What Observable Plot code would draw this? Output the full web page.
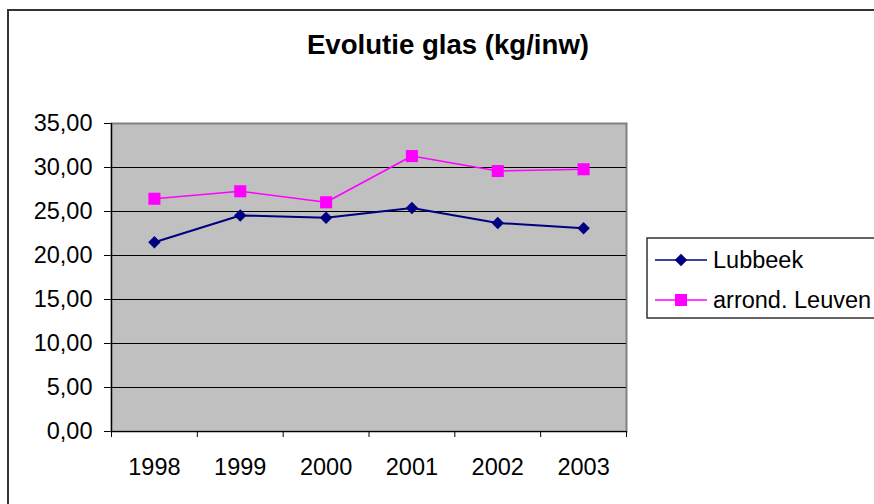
<!DOCTYPE html>
<html>
<head>
<meta charset="utf-8">
<script src="https://cdn.jsdelivr.net/npm/d3@7"></script>
<script src="https://cdn.jsdelivr.net/npm/@observablehq/plot@0.6"></script>
<style>
  html, body { margin: 0; padding: 0; background: white; }
  #wrap { position: relative; width: 874px; height: 504px; overflow: hidden; background: white; font-family: "Liberation Sans", Arial, sans-serif; }
  #frame { position: absolute; left: 7px; top: 9px; width: 1000px; height: 700px; border: 2px solid #333; box-sizing: border-box; }
  #title { position: absolute; left: 248px; width: 400px; top: 29px; text-align: center; font-weight: bold; font-size: 27.6px; line-height: 32px; color: black; }
  #chart { position: absolute; left: 0; top: 0; }
  #legend { position: absolute; left: 646px; top: 237px; }
</style>
</head>
<body>
<div id="wrap">
  <div id="frame"></div>
  <div id="chart"></div>
  <div id="title"></div>
  <div id="legend"></div>
</div>
<script>
const titleText = "Evolutie glas (kg/inw)";
const years = [1998, 1999, 2000, 2001, 2002, 2003];
const seriesNames = ["Lubbeek", "arrond. Leuven"];
const lubbeek = [21.5, 24.55, 24.3, 25.4, 23.7, 23.1];
const leuven = [26.45, 27.3, 26.05, 31.3, 29.6, 29.8];
const yTicks = [0, 5, 10, 15, 20, 25, 30, 35];
const colors = ["#000080", "#FF00FF"];

const fmt = d3.formatLocale({decimal: ",", thousands: ".", grouping: [3], currency: ["", ""]}).format(".2f");

const dataL = years.map((y, i) => ({year: y, value: lubbeek[i]}));
const dataA = years.map((y, i) => ({year: y, value: leuven[i]}));
const boundaries = years.map(y => y - 0.5).concat([years[years.length - 1] + 0.5]);
const grid = yTicks.filter(v => v > 0 && v < 35);

const chart = Plot.plot({
  width: 874,
  height: 504,
  marginLeft: 111,
  marginRight: 248,
  marginTop: 123,
  marginBottom: 73,
  style: {fontFamily: "'Liberation Sans', Arial, sans-serif", fontSize: "23.5px", color: "black", background: "transparent", overflow: "visible"},
  x: {domain: [boundaries[0], boundaries[boundaries.length - 1]], ticks: years, tickFormat: d => String(d), tickSize: 0, tickPadding: 27, label: null},
  y: {domain: [0, 35], ticks: yTicks, tickFormat: fmt, tickSize: 7, tickPadding: 12, label: null},
  marks: [
    Plot.frame({fill: "#C0C0C0", stroke: "#808080", strokeWidth: 2}),
    Plot.ruleY(grid, {stroke: "black", strokeWidth: 1}),
    Plot.ruleY([0], {stroke: "black", strokeWidth: 1.2}),
    Plot.ruleX([boundaries[0]], {stroke: "black", strokeWidth: 1.2}),
    Plot.ruleX(boundaries, {y1: 0, y2: 0, insetBottom: -6, stroke: "black"}),
    Plot.line(dataL, {x: "year", y: "value", stroke: colors[0], strokeWidth: 2}),
    Plot.line(dataA, {x: "year", y: "value", stroke: colors[1], strokeWidth: 1.6}),
    Plot.dot(dataL, {x: "year", y: "value", symbol: "diamond2", fill: colors[0], stroke: "none", r: 5.6}),
    Plot.dot(dataA, {x: "year", y: "value", symbol: "square", fill: colors[1], stroke: "none", r: 6.8})
  ]
});
document.getElementById("chart").appendChild(chart);
document.getElementById("title").textContent = titleText;

// Legend
const lg = d3.select("#legend").append("svg").attr("width", 240).attr("height", 84)
  .style("overflow", "visible");
lg.append("rect").attr("x", 1).attr("y", 1).attr("width", 260).attr("height", 80)
  .attr("fill", "white").attr("stroke", "#333").attr("stroke-width", 1.5);
const rows = [
  {name: seriesNames[0], color: colors[0], sym: d3.symbolDiamond2, size: 100, y: 23},
  {name: seriesNames[1], color: colors[1], sym: d3.symbolSquare, size: 144, y: 63}
];
rows.forEach(r => {
  lg.append("line").attr("x1", 9).attr("x2", 61).attr("y1", r.y).attr("y2", r.y)
    .attr("stroke", r.color).attr("stroke-width", 1.6);
  lg.append("path").attr("d", d3.symbol(r.sym, r.size)()).attr("transform", `translate(35,${r.y})`)
    .attr("fill", r.color);
  lg.append("text").attr("x", 67).attr("y", r.y).attr("dy", "0.35em")
    .attr("font-family", "'Liberation Sans', Arial, sans-serif").attr("font-size", 23.5)
    .attr("fill", "black").text(r.name);
});
</script>
</body>
</html>
